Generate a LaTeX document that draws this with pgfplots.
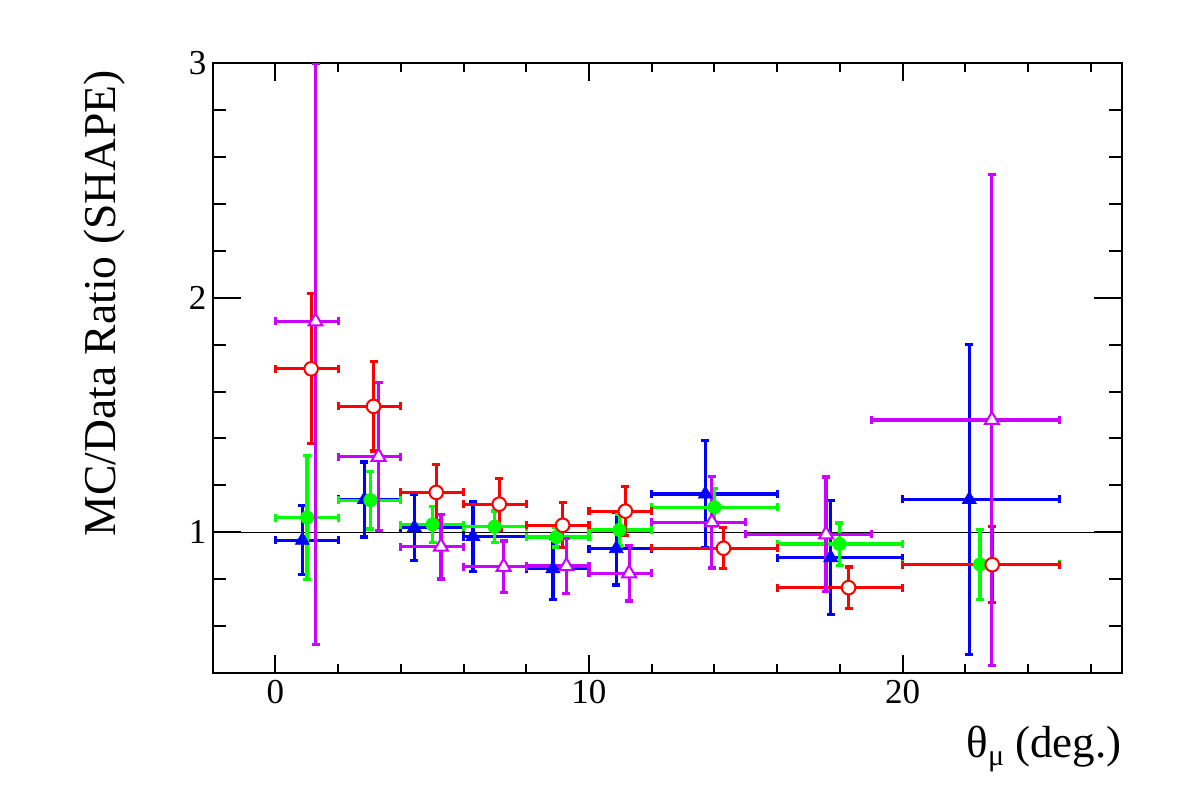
\documentclass[border=0pt]{standalone}
\usepackage{fontspec}
\setmainfont{Liberation Serif}
\usepackage{pgfplots}
\pgfplotsset{compat=1.18}
\usepackage{pgfplotstable}
\definecolor{cblue}{RGB}{0,0,255}
\definecolor{cgreen}{RGB}{0,255,0}
\definecolor{cred}{RGB}{255,0,0}
\definecolor{cmag}{RGB}{204,0,255}

% blue filled triangles
\pgfplotstableread{
x y exm exp eyp eym
0.86 0.966 0.86 1.14 0.147 0.147
2.84 1.140 0.84 1.16 0.160 0.160
4.43 1.020 0.43 1.57 0.140 0.140
6.30 0.982 0.30 1.70 0.148 0.148
8.85 0.845 0.85 1.15 0.130 0.130
10.87 0.930 0.87 1.13 0.155 0.155
13.71 1.163 1.71 2.29 0.230 0.230
17.71 0.892 1.71 2.29 0.242 0.242
22.13 1.140 2.13 2.87 0.660 0.660
}\tblue
% green filled circles
\pgfplotstableread{
x y exm exp eyp eym
1.01 1.063 1.01 0.99 0.263 0.263
3.03 1.137 1.03 0.97 0.123 0.123
5.01 1.033 1.01 0.99 0.078 0.078
6.99 1.024 0.99 1.01 0.067 0.067
8.96 0.980 0.96 1.04 0.043 0.043
10.97 1.010 0.97 1.03 0.068 0.068
14.00 1.107 2.00 2.00 0.080 0.080
17.99 0.950 1.99 2.01 0.090 0.090
22.47 0.863 2.47 2.53 0.148 0.148
}\tgreen
% red open circles
\pgfplotstableread{
x y exm exp eyp eym
1.14 1.697 1.14 0.86 0.320 0.320
3.13 1.537 1.13 0.87 0.190 0.190
5.13 1.170 1.13 0.87 0.118 0.118
7.14 1.120 1.14 0.86 0.110 0.110
9.16 1.030 1.16 0.84 0.096 0.096
11.16 1.090 1.16 0.84 0.105 0.105
14.29 0.932 2.29 1.71 0.087 0.087
18.28 0.764 2.28 1.72 0.088 0.088
22.86 0.862 2.86 2.14 0.162 0.162
}\tred
% magenta open triangles
\pgfplotstableread{
x y exm exp eyp eym
1.28 1.899 1.28 0.72 1.101 1.376
3.29 1.322 1.29 0.71 0.316 0.316
5.28 0.939 1.28 0.72 0.138 0.138
7.28 0.853 1.28 0.72 0.110 0.110
9.28 0.856 1.28 0.72 0.117 0.117
11.28 0.825 1.28 0.72 0.118 0.118
13.92 1.043 1.92 1.08 0.195 0.195
17.56 0.991 2.56 1.44 0.245 0.245
22.85 1.479 3.85 2.15 1.047 1.047
}\tmag

\pgfplotsset{
  base/.style={at={(106.35pt,65pt)}, anchor=south west, scale only axis,
    width=454.65pt, height=304.85pt,
    xmin=-2, xmax=27, ymin=0.4, ymax=3,
    axis line style={line width=1pt, black},
    tick style={line width=1pt, black},
    tick align=inside, xtick pos=both, ytick pos=both,
    /pgf/number format/assume math mode=true,
    tick label style={font=\fontsize{17.5}{20}\selectfont},
    yticklabel style={inner xsep=3pt}},
  ebar/.style={only marks, mark=none, color=#1,
    error bars/.cd, x dir=both, x explicit, y dir=both, y explicit,
    error bar style={line width=1.6pt, color=#1},
    error mark options={rotate=90, mark size=2pt, line width=1.6pt, color=#1}},
}

\begin{document}
\begin{tikzpicture}[x=1pt,y=1pt]
\useasboundingbox (0,0) rectangle (591,401.5);
\begin{axis}[base, xtick={0,10,20}, minor xtick={2,4,6,8,12,14,16,18,22,24,26},
  major tick length=9pt, minor tick length=4.5pt, ytick=\empty]
\end{axis}
\begin{axis}[base, ytick={1,2,3}, minor ytick={0.6,0.8,1.2,1.4,1.6,1.8,2.2,2.4,2.6,2.8},
  major tick length=14pt, minor tick length=6.5pt, xtick=\empty]
\addplot[black, line width=0.6pt] coordinates {(-2,1) (27,1)};
\addplot[ebar=cblue] table[x=x, y=y, x error plus=exp, x error minus=exm, y error plus=eyp, y error minus=eym] {\tblue};
\addplot[ebar=cgreen] table[x=x, y=y, x error plus=exp, x error minus=exm, y error plus=eyp, y error minus=eym] {\tgreen};
\addplot[ebar=cred] table[x=x, y=y, x error plus=exp, x error minus=exm, y error plus=eyp, y error minus=eym] {\tred};
\addplot[ebar=cmag] table[x=x, y=y, x error plus=exp, x error minus=exm, y error plus=eyp, y error minus=eym] {\tmag};
\addplot[only marks, mark=triangle*, mark size=4pt, color=cblue] table[x=x,y=y] {\tblue};
\addplot[only marks, mark=*, mark size=3.3pt, color=cgreen] table[x=x,y=y] {\tgreen};
\addplot[only marks, mark=*, mark size=3.4pt, mark options={draw=cred, fill=white, line width=1pt}] table[x=x,y=y] {\tred};
\addplot[only marks, mark=triangle*, mark size=4pt, mark options={draw=cmag, fill=white, line width=1pt}] table[x=x,y=y] {\tmag};
\end{axis}
\node[rotate=90, anchor=base east, font=\fontsize{22.8}{27}\selectfont] at (57.5,370) {MC/Data Ratio (SHAPE)};
\node[anchor=base east, font=\fontsize{22.5}{27}\selectfont, inner sep=0pt] at (561,23) {θ\raisebox{-4pt}{\fontsize{15}{15}\selectfont μ} (deg.)};
\end{tikzpicture}
\end{document}
